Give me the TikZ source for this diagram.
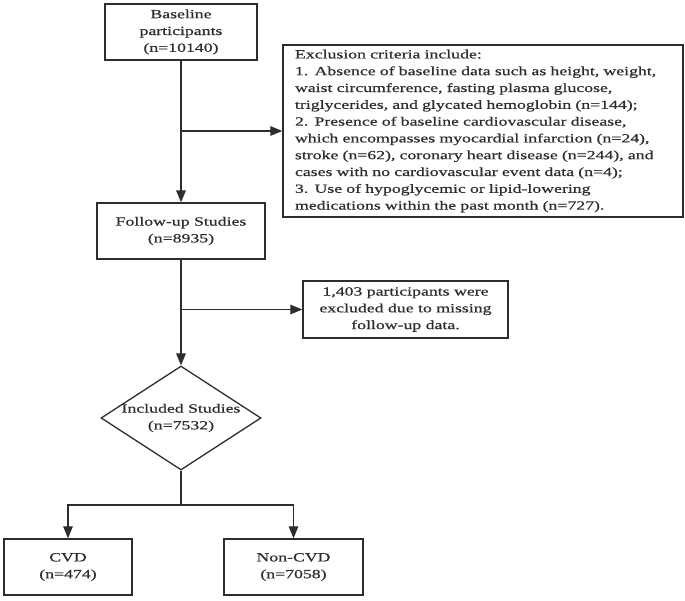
\documentclass[tikz,border=0pt]{standalone}
\usepackage{fontspec}
\setmainfont{Liberation Serif}[FakeStretch=1.42,FakeBold=0.7]
\usepackage{tikz}
\usetikzlibrary{arrows.meta}
\usetikzlibrary{shapes.geometric}

\definecolor{ink}{RGB}{45,45,45}
\tikzset{
  box/.style={draw,rectangle,align=center,inner sep=2pt,line width=1.3pt},
  arr/.style={-{Triangle[length=12pt,width=9.5pt]}},
  main/.style={line width=1.7pt},
}

\begin{document}
\begin{tikzpicture}[x=1pt,y=-1pt,line width=1.2pt,color=ink,
                    font=\fontsize{12.5}{16.8}\selectfont
                ]
            \useasboundingbox (0,0) rectangle (685,601);

            \node[box,minimum width=152,minimum height=56] (base) at (181,32) {Baseline\\participants\\(n=10140)};
            \node[box,text width=376pt,inner xsep=12pt,minimum height=172,align=left] (excl) at (483,131)
                {Exclusion criteria include:\\
                 1. Absence of baseline data such as height, weight,\\
                 waist circumference, fasting plasma glucose,\\
                 triglycerides, and glycated hemoglobin (n=144);\\
                 2. Presence of baseline cardiovascular disease,\\
                 which encompasses myocardial infarction (n=24),\\
                 stroke (n=62), coronary heart disease (n=244), and\\
                 cases with no cardiovascular event data (n=4);\\
                 3. Use of hypoglycemic or lipid-lowering\\
                 medications within the past month (n=727).};

            \node[box,minimum width=168,minimum height=56] (fol) at (181,231) {Follow-up Studies\\(n=8935)};
            \node[box,minimum width=205,minimum height=57] (miss) at (405.5,309.5) {1,403 participants were\\excluded due to missing\\follow-up data.};

            \node[diamond,draw,line width=1.3pt,inner sep=0pt,minimum width=160,minimum height=104,
                  label={[align=center]center:Included Studies\\(n=7532)}] (incl) at (181,418) {};
            \coordinate (split) at (181,505);

            \node[box,minimum width=128,minimum height=56] (cvd) at (68,567) {CVD\\(n=474)};
            \node[box,minimum width=139,minimum height=56] (ncvd) at (293.5,567) {Non-CVD\\(n=7058)};

            \draw[main,arr] (base) to (fol);
            \draw[arr] (base.south |- excl.west) to (excl.west);
            \draw[main,arr] (fol) to (incl);
            \draw[arr] (fol.south |- miss.west) to (miss.west);

            \draw (incl.south) to (split);
            \draw[arr] (split) -| (cvd.north);
            \draw[arr] (split) -| (ncvd.north);

            \end{tikzpicture}
\end{document}
